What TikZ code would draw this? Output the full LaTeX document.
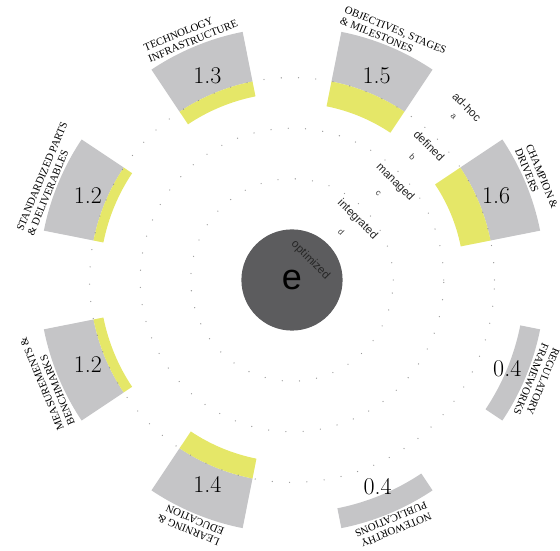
\documentclass[tikz,border=0pt]{standalone}
\usepackage{fontspec}
\newfontfamily\capfont{Liberation Serif}
\newfontfamily\levfont{Liberation Sans}
\definecolor{bargray}{RGB}{197,197,199}
\definecolor{baryellow}{RGB}{229,231,104}
\definecolor{hubgray}{RGB}{92,92,94}
\begin{document}
\begin{tikzpicture}[x=1pt,y=1pt,
  numstyle/.style={inner sep=0pt,font=\fontsize{24}{24}\selectfont},
  catstyle/.style={inner sep=0pt,align=left,anchor=south,font=\capfont\fontsize{10.8}{11.8}\selectfont},
  levstyle/.style={inner sep=0pt,rotate=-45,font=\levfont\fontsize{11.5}{12}\selectfont,text=black!85},
  letstyle/.style={inner sep=0pt,rotate=-45,font=\levfont\fontsize{8.5}{8.5}\selectfont,text=black!75},
  dotring/.style={draw=black!40,line width=1.3pt,line cap=round,dash pattern=on 0pt off 17.3pt}]
\def\u{50.6}
\def\R{253}
\useasboundingbox (-292,-271) rectangle (268,280);
\foreach \i/\a/\v/\nr/\lab in {
  1/22.5/1.6/221/{CHAMPION \&\\DRIVERS},
  2/67.5/1.5/221/{OBJECTIVES, STAGES\\\& MILESTONES},
  3/112.5/1.3/221/{TECHNOLOGY\\INFRASTRUCTURE},
  4/157.5/1.2/221/{STANDARDIZED PARTS\\\& DELIVERABLES},
  5/202.5/1.2/221/{MEASUREMENTS \&\\BENCHMARKS},
  6/247.5/1.4/221/{LEARNING \&\\EDUCATION},
  7/292.5/0.4/224/{NOTEWORTHY\\PUBLICATIONS},
  8/337.5/0.4/233/{REGULATORY\\FRAMEWORKS}}{
  \pgfmathsetmacro\rin{\R-\v*\u}
  \pgfmathsetmacro\rmid{max(\rin,\R-\u)}
  \pgfmathsetmacro\aa{\a-11.25}
  \pgfmathsetmacro\ab{\a+11.25}
  \pgfmathsetmacro\rl{\R+2}
  \fill[bargray] (\aa:\rmid pt) arc[start angle=\aa,end angle=\ab,radius=\rmid pt]
     -- (\ab:\R pt) arc[start angle=\ab,end angle=\aa,radius=\R pt] -- cycle;
  \ifdim\v pt>1pt
  \fill[baryellow] (\aa:\rin pt) arc[start angle=\aa,end angle=\ab,radius=\rin pt]
     -- (\ab:\rmid pt) arc[start angle=\ab,end angle=\aa,radius=\rmid pt] -- cycle;
  \fi
  \node[numstyle] (num\i) at (\a:\nr pt) {\v};
  \node[catstyle,rotate=\a-90] (lab\i) at (\a:\rl pt) {\lab};
}
\foreach \k in {2,3,4}{
  \draw[dotring] (0,0) circle[radius=\k*\u pt];
}
\node[circle,fill=hubgray,minimum size=101.2pt,inner sep=0pt,
      font=\levfont\fontsize{36}{36}\selectfont] (hub) at (0,0) {e};
\node[levstyle] (lvA) at (44.7:246pt) {ad-hoc};
\node[letstyle] (ltA) at (45.4:230pt) {a};
\node[levstyle] (lvB) at (44.4:192pt) {defined};
\node[letstyle] (ltB) at (45.6:172pt) {b};
\node[levstyle] (lvC) at (43.5:142pt) {managed};
\node[letstyle] (ltC) at (45:122pt) {c};
\node[levstyle] (lvD) at (42.7:89pt) {integrated};
\node[letstyle] (ltD) at (44.4:69pt) {d};
\node[levstyle] (lvE) at (47:27pt) {optimized};
\end{tikzpicture}
\end{document}
